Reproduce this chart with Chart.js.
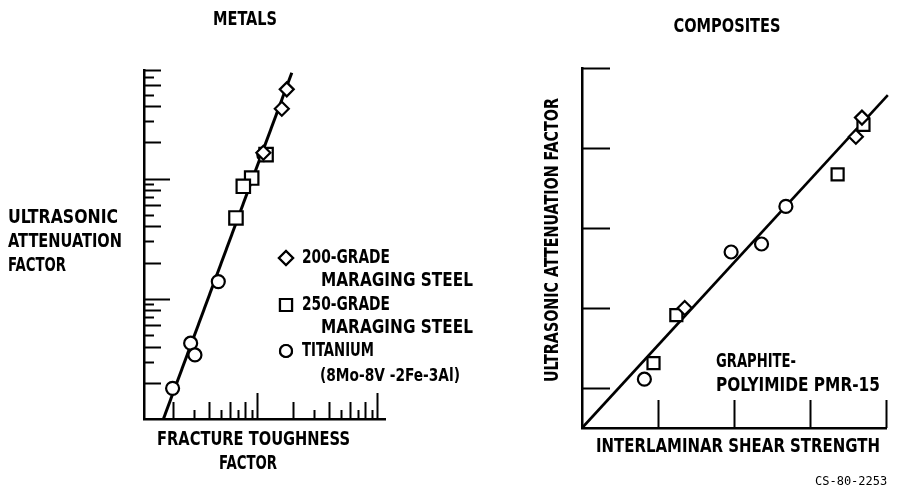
<!DOCTYPE html>
<html>
<head>
<meta charset="utf-8">
<script src="https://cdn.jsdelivr.net/npm/chart.js@4.4.1/dist/chart.umd.min.js"></script>
<style>
  html, body { margin: 0; padding: 0; background: #fff; }
  #wrap { position: relative; width: 897px; height: 493px; overflow: hidden; background: #fff; }
  .pane { position: absolute; top: 0; }
  #leftPane { left: 0; width: 520px; height: 493px; }
  #rightPane { left: 450px; width: 447px; height: 493px; }
</style>
</head>
<body>
<div id="wrap">
  <div class="pane" id="leftPane"><canvas id="metals" width="520" height="493"></canvas></div>
  <div class="pane" id="rightPane"><canvas id="composites" width="447" height="493"></canvas></div>
</div>
<script>
// ---------------- DATA ----------------
// METALS (log-log): fracture toughness factor vs ultrasonic attenuation factor
const metalsDiamondX = [17.7, 16.1, 11.3];          // 200-grade maraging steel
const metalsDiamondY = [552, 381, 164];
const metalsSquareX  = [11.9, 9.03, 7.69, 6.68];    // 250-grade maraging steel
const metalsSquareY  = [158, 101, 86.3, 47.0];
const metalsCircleX  = [11.4, 4.76, 2.80, 3.04, 1.98]; // titanium
const metalsCircleY  = [158, 13.9, 4.27, 3.41, 1.80];
const metalsFitX = [1.66, 19.5];
const metalsFitY = [1, 760];
const metalsXRange = [1.144, 116.6];
const metalsYRange = [1, 800];
const metalsXTicks = [2,3,4,5,6,7,8,9,10,20,30,40,50,60,70,80,90,100];
const metalsYTicks = [2,3,4,5,6,7,8,9,10,20,30,40,50,60,70,80,90,100,200,300,400,500,600,700,800];

// COMPOSITES (linear): interlaminar shear strength vs ultrasonic attenuation factor
const compDiamondX = [3.68, 3.60, 1.35];
const compDiamondY = [3.88, 3.64, 1.50];
const compSquareX  = [3.70, 3.36, 1.24, 0.94];
const compSquareY  = [3.79, 3.17, 1.41, 0.81];
const compCircleX  = [2.68, 2.36, 1.96, 0.82];
const compCircleY  = [2.77, 2.30, 2.20, 0.61];
const compFitX = [0, 4.02];
const compFitY = [0, 4.16];
const compXRange = [0, 4];
const compYRange = [0, 4.5];
const compXTicks = [1, 2, 3, 4];
const compYTicks = [0.5, 1.5, 2.5, 3.5, 4.5];

const legendLabels = [
  ['200-GRADE', 'MARAGING STEEL'],
  ['250-GRADE', 'MARAGING STEEL'],
  ['TITANIUM', '(8Mo-8V -2Fe-3Al)']
];

// ---------------- helpers ----------------
const FONT = "'Liberation Sans Narrow', 'DejaVu Sans Condensed', 'DejaVu Sans', sans-serif";
const pts = (xs, ys) => xs.map((x, i) => ({ x, y: ys[i] }));

const inwardTicks = {
  id: 'inwardTicks',
  afterDatasetsDraw(chart, args, opts) {
    const { ctx, chartArea, scales } = chart;
    ctx.save();
    ctx.strokeStyle = '#000';
    ctx.lineWidth = opts.width || 2;
    ctx.lineCap = 'butt';
    (opts.x || []).forEach(t => {
      const px = Math.round(scales.x.getPixelForValue(t.v)) + 0.5;
      ctx.beginPath();
      ctx.moveTo(px, chartArea.bottom);
      ctx.lineTo(px, chartArea.bottom - t.len);
      ctx.stroke();
    });
    (opts.y || []).forEach(t => {
      const py = Math.round(scales.y.getPixelForValue(t.v)) + 0.5;
      ctx.beginPath();
      ctx.moveTo(chartArea.left, py);
      ctx.lineTo(chartArea.left + t.len, py);
      ctx.stroke();
    });
    ctx.restore();
  }
};

const textLayer = {
  id: 'textLayer',
  afterDraw(chart, args, opts) {
    const ctx = chart.ctx;
    ctx.save();
    ctx.fillStyle = '#000';
    ctx.textBaseline = 'middle';
    (opts.items || []).forEach(it => {
      ctx.save();
      ctx.font = it.font || ('bold 19px ' + FONT);
      ctx.textAlign = it.align || 'left';
      ctx.translate(it.x, it.y);
      if (it.rot) ctx.rotate(it.rot);
      ctx.fillText(it.text, 0, 0, it.w);
      ctx.restore();
    });
    (opts.markers || []).forEach(m => {
      ctx.save();
      ctx.strokeStyle = '#000';
      ctx.fillStyle = '#fff';
      ctx.lineWidth = 2.2;
      if (Chart.helpers && Chart.helpers.drawPoint) {
        Chart.helpers.drawPoint(ctx, { pointStyle: m.style, radius: m.r, borderWidth: 2.2, rotation: 0 }, m.x, m.y);
        ctx.fill(); ctx.stroke();
      }
      ctx.restore();
    });
    ctx.restore();
  }
};

function tickList(values, decadeLen, evenLen, oddLen) {
  return values.map(v => {
    const lead = v / Math.pow(10, Math.floor(Math.log10(v) + 1e-9));
    const r = Math.round(lead);
    const len = r === 1 ? decadeLen : (r % 2 === 0 ? evenLen : oddLen);
    return { v, len };
  });
}

function markerDs(data, style, r) {
  return {
    data, showLine: false, pointStyle: style, pointRadius: r, pointHoverRadius: r,
    pointBackgroundColor: '#fff', pointBorderColor: '#000', pointBorderWidth: 2.2, clip: false
  };
}
function lineDs(data, w) {
  return { data, showLine: true, pointRadius: 0, borderColor: '#000', borderWidth: w, clip: false, order: 10 };
}
function axis(type, range, pos, fitSize) {
  return {
    type, min: range[0], max: range[1], position: pos,
    ticks: { display: false },
    grid: { display: false, drawTicks: false },
    border: { display: true, color: '#000', width: 2.5 },
    afterFit: (s) => { if (pos === 'left') s.width = fitSize; else s.height = fitSize; }
  };
}

// ---------------- METALS chart ----------------
new Chart(document.getElementById('metals'), {
  type: 'scatter',
  data: {
    datasets: [
      lineDs(pts(metalsFitX, metalsFitY), 3),
      markerDs(pts(metalsDiamondX, metalsDiamondY), 'rectRot', 7),
      markerDs(pts(metalsSquareX, metalsSquareY), 'rect', 9.5),
      markerDs(pts(metalsCircleX, metalsCircleY), 'circle', 6.5)
    ]
  },
  options: {
    responsive: false, animation: false, events: [],
    layout: { padding: { left: 0, top: 70, right: 135, bottom: 0 } },
    scales: {
      x: axis('logarithmic', metalsXRange, 'bottom', 74),
      y: axis('logarithmic', metalsYRange, 'left', 144)
    },
    plugins: {
      legend: { display: false }, tooltip: { enabled: false },
      inwardTicks: { width: 2, x: tickList(metalsXTicks, 26, 17, 9), y: tickList(metalsYTicks, 26, 17, 10) },
      textLayer: {
        items: [
          { text: 'METALS', x: 245, y: 20, align: 'center', w: 64, font: 'bold 20px ' + FONT },
          { text: 'ULTRASONIC', x: 8, y: 218, w: 110 },
          { text: 'ATTENUATION', x: 8, y: 242, w: 114 },
          { text: 'FACTOR', x: 8, y: 266, w: 58 },
          { text: 'FRACTURE TOUGHNESS', x: 157, y: 440, w: 193 },
          { text: 'FACTOR', x: 248, y: 464, align: 'center', w: 58 },
          { text: legendLabels[0][0], x: 302, y: 258, w: 88 },
          { text: legendLabels[0][1], x: 321, y: 281, w: 152 },
          { text: legendLabels[1][0], x: 302, y: 305, w: 88 },
          { text: legendLabels[1][1], x: 321, y: 328, w: 152 },
          { text: legendLabels[2][0], x: 302, y: 351, w: 72 },
          { text: legendLabels[2][1], x: 320, y: 377, w: 140, font: 'bold 17px ' + FONT }
        ],
        markers: [
          { style: 'rectRot', r: 7, x: 286, y: 258 },
          { style: 'rect', r: 8.5, x: 286, y: 305 },
          { style: 'circle', r: 6, x: 286, y: 351 }
        ]
      }
    }
  },
  plugins: [inwardTicks, textLayer]
});

// ---------------- COMPOSITES chart ----------------
new Chart(document.getElementById('composites'), {
  type: 'scatter',
  data: {
    datasets: [
      lineDs(pts(compFitX, compFitY), 2.6),
      markerDs(pts(compDiamondX, compDiamondY), 'rectRot', 7),
      markerDs(pts(compSquareX, compSquareY), 'rect', 8.5),
      markerDs(pts(compCircleX, compCircleY), 'circle', 6.5)
    ]
  },
  options: {
    responsive: false, animation: false, events: [],
    layout: { padding: { left: 0, top: 68, right: 2, bottom: 0 } },
    scales: {
      x: axis('linear', compXRange, 'bottom', 65),
      y: axis('linear', compYRange, 'left', 132)
    },
    plugins: {
      legend: { display: false }, tooltip: { enabled: false },
      inwardTicks: { width: 2, x: compXTicks.map(v => ({ v, len: 28 })), y: compYTicks.map(v => ({ v, len: 28 })) },
      textLayer: {
        items: [
          { text: 'COMPOSITES', x: 277, y: 27, align: 'center', w: 107, font: 'bold 20px ' + FONT },
          { text: 'ULTRASONIC ATTENUATION FACTOR', x: 103, y: 240, align: 'center', w: 284, rot: -Math.PI / 2 },
          { text: 'INTERLAMINAR SHEAR STRENGTH', x: 146, y: 447, w: 284 },
          { text: 'GRAPHITE-', x: 266, y: 362, w: 80 },
          { text: 'POLYIMIDE PMR-15', x: 266, y: 386, w: 164 },
          { text: 'CS-80-2253', x: 365, y: 482, w: 75, font: '12px "DejaVu Sans Mono", monospace' }
        ]
      }
    }
  },
  plugins: [inwardTicks, textLayer]
});
</script>
</body>
</html>
